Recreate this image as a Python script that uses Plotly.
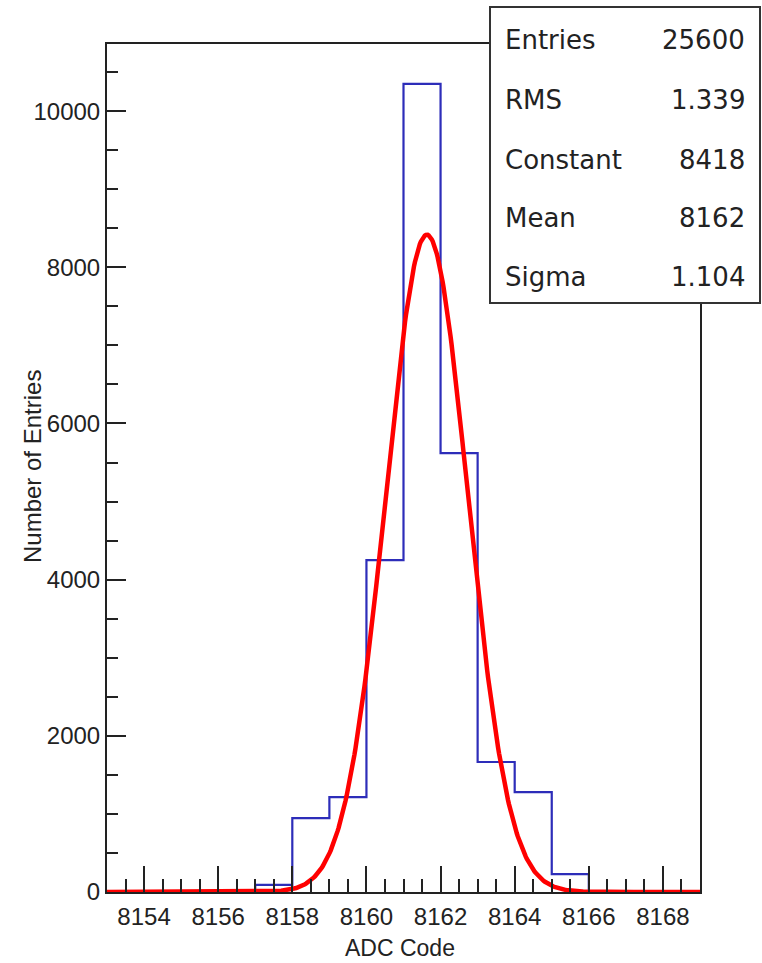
import numpy as np
import plotly.graph_objects as go

# ---- data ----
bin_edges = list(range(8153, 8170))  # 16 bins of width 1
bin_counts = [0, 0, 0, 0, 90, 947, 1216, 4250, 10350, 5621, 1665, 1280, 230, 0, 0, 0]

fit_constant = 8418
fit_mean = 8161.63
fit_sigma = 1.104

stat_names = ["Entries", "RMS", "Constant", "Mean", "Sigma"]
stat_values = ["25600", "1.339", "8418", "8162", "1.104"]

x_title = "ADC Code"
y_title = "Number of Entries"

# ---- geometry ----
W, H = 762, 963
L, R, T, B = 107, 700, 44, 892
pw, ph = R - L, B - T

def px(x):
    return (x - L) / pw

def py(y):
    return (B - y) / ph

fig = go.Figure()

# histogram (step)
fig.add_trace(go.Scatter(
    x=bin_edges,
    y=bin_counts + [bin_counts[-1]],
    mode="lines",
    line=dict(shape="hv", color="rgb(45,45,185)", width=2.2),
    hoverinfo="skip",
))

# gaussian fit curve from fit parameters
xf = np.linspace(bin_edges[0], bin_edges[-1], 600)
yf = fit_constant * np.exp(-0.5 * ((xf - fit_mean) / fit_sigma) ** 2)
fig.add_trace(go.Scatter(
    x=xf, y=yf, mode="lines",
    line=dict(color="rgb(255,0,0)", width=4.5),
    hoverinfo="skip",
))

tickfont = dict(family="Liberation Sans, Arial, sans-serif", size=24, color="#222")

fig.update_layout(
    width=W, height=H,
    margin=dict(l=L, r=W - R, t=T, b=H - B, pad=0),
    paper_bgcolor="white", plot_bgcolor="white",
    showlegend=False,
    xaxis=dict(
        range=[bin_edges[0], bin_edges[-1]],
        tick0=8154, dtick=2, tickformat="d",
        ticks="inside", ticklen=26, tickwidth=2, tickcolor="#222",
        minor=dict(dtick=0.5, tick0=8153.5, ticks="inside", ticklen=13,
                   tickwidth=2, tickcolor="#222"),
        showline=True, linecolor="#222", linewidth=2, mirror=True,
        showgrid=False, zeroline=False,
        tickfont=tickfont, ticklabelstandoff=2,
    ),
    yaxis=dict(
        range=[0, 10860],
        tick0=0, dtick=2000, tickformat="d",
        ticks="inside", ticklen=19, tickwidth=2, tickcolor="#222",
        minor=dict(dtick=500, ticks="inside", ticklen=11,
                   tickwidth=2, tickcolor="#222"),
        showline=True, linecolor="#222", linewidth=2, mirror=True,
        showgrid=False, zeroline=False,
        tickfont=tickfont, ticklabelstandoff=0,
    ),
)

annotations = [
    dict(text=x_title, x=px(400), y=py(948), xref="paper", yref="paper",
         xanchor="center", yanchor="middle", showarrow=False,
         font=dict(family="Liberation Sans, Arial, sans-serif", size=23, color="#222")),
    dict(text=y_title, x=px(32), y=py(467), xref="paper", yref="paper",
         xanchor="center", yanchor="middle", showarrow=False, textangle=-90,
         font=dict(family="Liberation Sans, Arial, sans-serif", size=24, color="#222")),
]

# stats box
fig.add_shape(type="rect", xref="paper", yref="paper",
              x0=px(490), x1=px(760), y0=py(303), y1=py(7),
              line=dict(color="#333", width=2), fillcolor="white", layer="above")

row_y = [40, 100, 160, 218, 277]
for name, val, yy in zip(stat_names, stat_values, row_y):
    annotations.append(dict(text=name, x=px(503), y=py(yy), xref="paper", yref="paper",
                            xanchor="left", yanchor="middle", showarrow=False,
                            font=dict(family="DejaVu Sans, sans-serif", size=26, color="#222")))
    annotations.append(dict(text=val, x=px(747), y=py(yy), xref="paper", yref="paper",
                            xanchor="right", yanchor="middle", showarrow=False,
                            font=dict(family="DejaVu Sans, sans-serif", size=26, color="#222")))

fig.update_layout(annotations=annotations)

fig.write_html("out.html")
